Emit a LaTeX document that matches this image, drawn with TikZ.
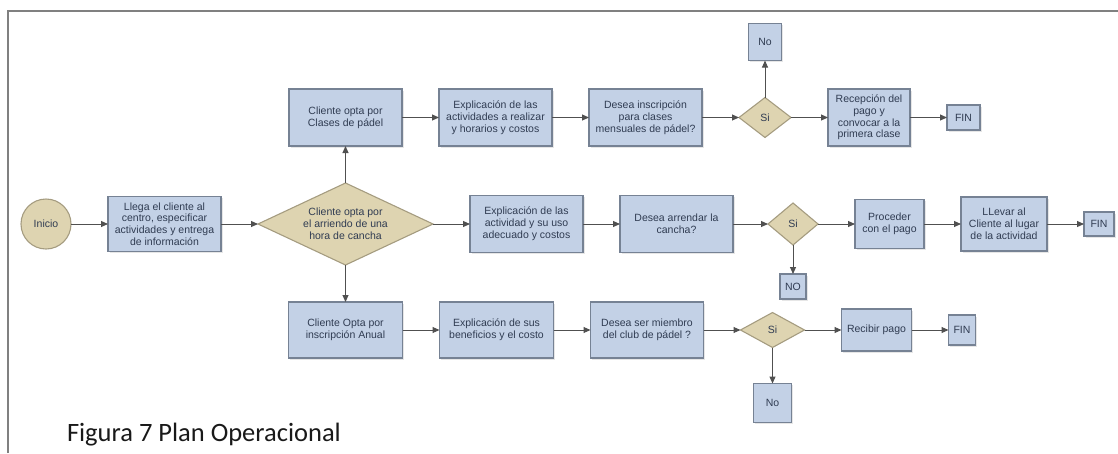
\documentclass[tikz,border=0pt]{standalone}
\usepackage{fontspec}
\setmainfont{Liberation Sans}
\newfontfamily\captionfont{Carlito}
\usetikzlibrary{arrows.meta,positioning,shapes.geometric,shadows}
\definecolor{cajafondo}{RGB}{195,209,230}
\definecolor{cajaborde}{RGB}{118,130,148}
\definecolor{rombofondo}{RGB}{222,212,177}
\definecolor{romboborde}{RGB}{165,156,128}
\definecolor{texto}{RGB}{48,60,82}
\definecolor{flecha}{RGB}{80,80,80}
\definecolor{marco}{RGB}{128,128,128}

\begin{document}
\begin{tikzpicture}[x=1pt,y=-1pt,node distance=37pt,
  every node/.style={align=center,font=\fontsize{10.5}{11.8}\selectfont,text=texto,inner sep=1pt,outer sep=0pt},
  caja/.style={draw=cajaborde,fill=cajafondo,line width=1.1pt,drop shadow={opacity=0.2,shadow xshift=1.5pt,shadow yshift=-1.5pt}},
  rombo/.style={diamond,draw=romboborde,fill=rombofondo,line width=1.1pt,inner sep=0pt},
  flechas/.style={-{Triangle[length=7pt,width=6pt]},line width=1pt,draw=flecha}]
  \useasboundingbox (0,0) rectangle (1118,453);
  \draw[marco,line width=2pt] (8,453) -- (8,11) -- (1118,11);
  \node[circle,draw=romboborde,fill=rombofondo,line width=1.1pt,minimum size=50pt] (a) at (46,224) {Inicio};
  \node[caja,minimum width=113pt,minimum height=55pt,right=of a] (b)
    {Llega el cliente al\\centro, especificar\\actividades y entrega\\de información};
  \node[rombo,aspect=2.13,minimum width=175pt,minimum height=82pt,right=of b] (c)
    {Cliente opta por\\el arriendo de una\\hora de cancha};
  \node[caja,minimum width=113pt,minimum height=57pt,above=of c] (t1) {Cliente opta por\\Clases de pádel};
  \node[caja,minimum width=113pt,minimum height=57pt,right=of t1] (t2)
    {Explicación de las\\actividades a realizar\\y horarios y costos};
  \node[caja,minimum width=113pt,minimum height=57pt,right=of t2] (t3)
    {Desea inscripción\\para clases\\mensuales de pádel?};
  \node[rombo,aspect=1.3,minimum width=52pt,minimum height=40pt,right=of t3] (t4) {Si};
  \node[caja,minimum width=33pt,minimum height=37pt,above=of t4] (t5) {No};
  \node[caja,minimum width=82pt,minimum height=57pt,right=of t4] (t6)
    {Recepción del\\pago y\\convocar a la\\primera clase};
  \node[caja,minimum width=33pt,minimum height=25pt,right=of t6] (t7) {FIN};
  \node[caja,minimum width=113pt,minimum height=57pt,right=of c] (m1)
    {Explicación de las\\actividad y su uso\\adecuado y costos};
  \node[caja,minimum width=113pt,minimum height=57pt,right=of m1] (m2) {Desea arrendar la\\cancha?};
  \node[rombo,aspect=1.2,minimum width=50pt,minimum height=42pt,right=35pt of m2] (m3) {Si};
  \node[caja,minimum width=26pt,minimum height=25pt,below=29pt of m3] (m4) {NO};
  \node[caja,minimum width=69pt,minimum height=49pt,right=of m3] (m5) {Proceder\\con el pago};
  \node[caja,minimum width=86pt,minimum height=54pt,right=of m5] (m6)
    {LLevar al\\Cliente al lugar\\de la actividad};
  \node[caja,minimum width=30pt,minimum height=24pt,right=of m6] (m7) {FIN};
  \node[caja,minimum width=114pt,minimum height=56pt,below=of c] (u1) {Cliente Opta por\\inscripción Anual};
  \node[caja,minimum width=114pt,minimum height=56pt,right=of u1] (u2) {Explicación de sus\\beneficios y el costo};
  \node[caja,minimum width=113pt,minimum height=56pt,right=of u2] (u3) {Desea ser miembro\\del club de pádel ?};
  \node[rombo,aspect=1.83,minimum width=64pt,minimum height=35pt,right=of u3] (u4) {Si};
  \node[caja,minimum width=38pt,minimum height=39pt,below=36pt of u4] (u5) {No};
  \node[caja,minimum width=70pt,minimum height=42pt,right=of u4] (u6) {Recibir pago};
  \node[caja,minimum width=27pt,minimum height=30pt,right=of u6] (u7) {FIN};
  \foreach \x/\y in {a/b,b/c,c/t1,t1/t2,t2/t3,t3/t4,t4/t5,t4/t6,t6/t7,c/m1,m1/m2,m2/m3,m3/m4,m3/m5,m5/m6,m6/m7,c/u1,u1/u2,u2/u3,u3/u4,u4/u5,u4/u6,u6/u7}{\draw[flechas] (\x)--(\y);}
  \node[anchor=base west,font=\captionfont\fontsize{26.5}{30}\selectfont,text=black!90,inner sep=0pt] (titulo) at (67,441)
    {Figura 7 Plan Operacional};
\end{tikzpicture}
\end{document}
